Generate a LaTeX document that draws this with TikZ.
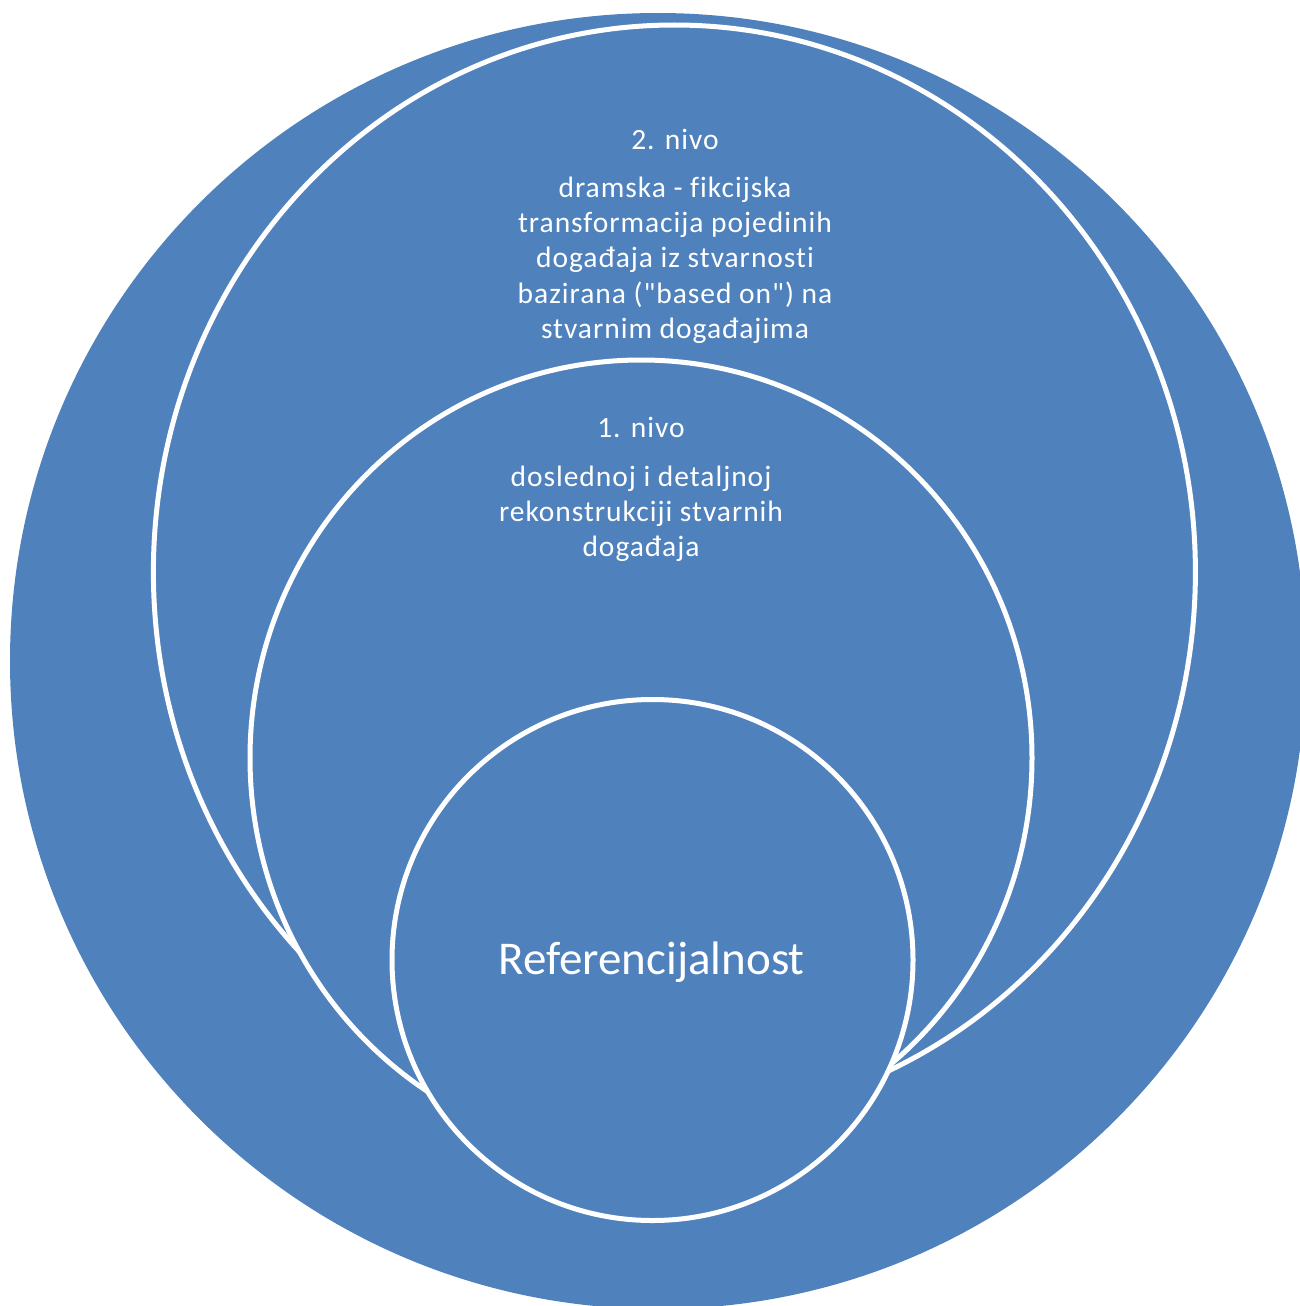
\documentclass[tikz,border=0pt]{standalone}
\usepackage{fontspec}
\usetikzlibrary{shapes.geometric}
\setmainfont{Carlito}[Ligatures=NoCommon]
\newfontfamily\smallfont{Carlito}[LetterSpace=3.3,Ligatures=NoCommon]
\definecolor{ringblue}{RGB}{79,129,189}
\begin{document}
\begin{tikzpicture}[x=1pt,y=-1pt,
  ring/.style={ellipse, fill=ringblue, draw=white, line width=5pt, inner sep=0pt, outer sep=0pt},
  small/.style={text=white, inner sep=0pt, align=center, font=\smallfont\fontsize{29.5}{35.3}\selectfont},
  big/.style={text=white, inner sep=0pt, font=\fontsize{47}{55}\selectfont}]
\useasboundingbox (0,0) rectangle (1300,1306);
\fill[white] (0,0) rectangle (1300,1306);
\begin{scope}
\clip (0,0) rectangle (1300,1306);
\node[ring, draw=none, minimum width=1296pt, minimum height=1296pt] (outer) at (658,661) {};
\node[ring, minimum width=1042pt, minimum height=1094pt] (lvl2) at (674.4,572) {};
\node[ring, minimum width=782pt, minimum height=796pt] (lvl1) at (641,758) {};
\node[ring, minimum width=521pt, minimum height=521pt] (core) at (652.5,960) {};
\end{scope}
\node[small, anchor=base] (t2) at (675,149) {2. nivo};
\node[small, anchor=north] (d2) at (675,172.3) {\strut dramska - fikcijska\\transformacija pojedinih\\događaja iz stvarnosti\\bazirana (\symbol{34}based on\symbol{34}) na\\stvarnim događajima};
\node[small, anchor=base] (t1) at (641,437) {1. nivo};
\node[small, anchor=north] (d1) at (641,461.3) {\strut doslednoj i detaljnoj\\rekonstrukciji stvarnih\\događaja};
\node[big, anchor=base] (ref) at (651.5,974.5) {Referencijalnost};
\end{tikzpicture}
\end{document}
